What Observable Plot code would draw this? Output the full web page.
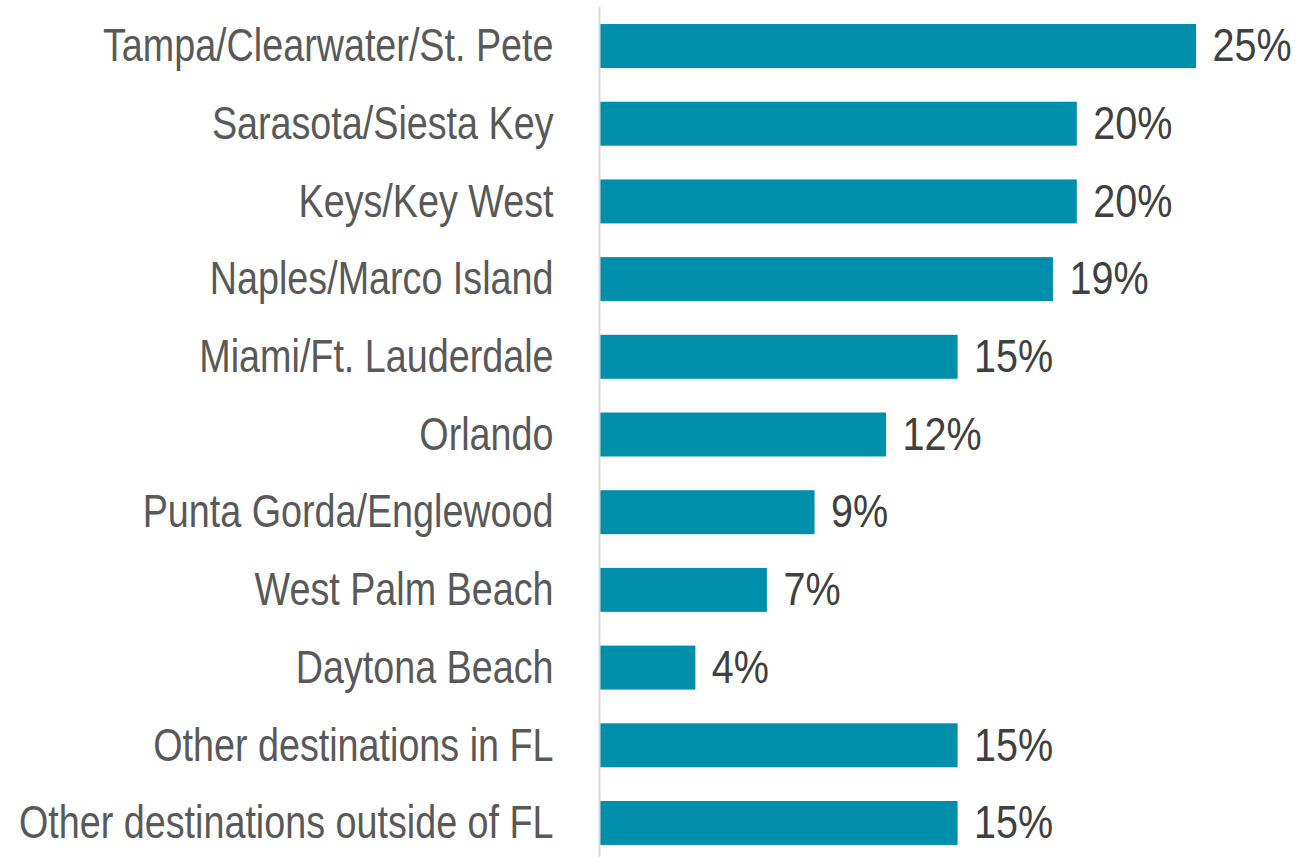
<!DOCTYPE html>
<html>
<head>
<meta charset="utf-8">
<script src="https://cdn.jsdelivr.net/npm/d3@7"></script>
<script src="https://cdn.jsdelivr.net/npm/@observablehq/plot@0.6"></script>
<style>
  html, body { margin: 0; padding: 0; background: #fff; }
  #chart svg { display: block; }
</style>
</head>
<body>
<div id="chart"></div>
<script>
const destinations = [
  "Tampa/Clearwater/St. Pete",
  "Sarasota/Siesta Key",
  "Keys/Key West",
  "Naples/Marco Island",
  "Miami/Ft. Lauderdale",
  "Orlando",
  "Punta Gorda/Englewood",
  "West Palm Beach",
  "Daytona Beach",
  "Other destinations in FL",
  "Other destinations outside of FL"
];
const shares = [25, 20, 20, 19, 15, 12, 9, 7, 4, 15, 15];

const data = destinations.map((d, i) => ({destination: d, share: shares[i]}));

const font = "'Liberation Sans Narrow', 'Arial Narrow', 'Liberation Sans', Arial, sans-serif";

const chart = Plot.plot({
  width: 1311,
  height: 857,
  marginLeft: 600,
  marginRight: 115,
  marginTop: 7,
  marginBottom: 0,
  style: {fontFamily: font, background: "#fff"},
  x: {domain: [0, 25], axis: null},
  y: {domain: destinations, paddingInner: 0.434, paddingOuter: 0.187, align: 0.586, round: false, label: null},
  marks: [
    Plot.barX(data, {x: "share", y: "destination", fill: "#008FAB"}),
    Plot.ruleX([0], {stroke: "#D9D9D9", strokeWidth: 2, dx: -1}),
    Plot.axisY({tickSize: 0, tickPadding: 47, fontSize: 46, fill: "#595959", label: null, className: "labels"}),
    Plot.text(data, {x: "share", y: "destination", text: d => d.share + "%", textAnchor: "start", dx: 16, fontSize: 46, fill: "#404040", className: "values"})
  ]
});

// Emulate a condensed typeface by narrowing each text horizontally about its anchor.
function narrowTexts(selector, s) {
  chart.querySelectorAll(selector).forEach(t => {
    const tr = t.getAttribute("transform");
    if (tr) {
      t.setAttribute("transform", tr + ` scale(${s},1)`);
    } else {
      const x = +t.getAttribute("x") || 0;
      const y = +t.getAttribute("y") || 0;
      t.removeAttribute("x");
      t.removeAttribute("y");
      t.setAttribute("transform", `translate(${x},${y}) scale(${s},1)`);
    }
  });
}
narrowTexts(".labels text", 0.82);
narrowTexts(".values text", 0.86);

document.getElementById("chart").appendChild(chart);
</script>
</body>
</html>
